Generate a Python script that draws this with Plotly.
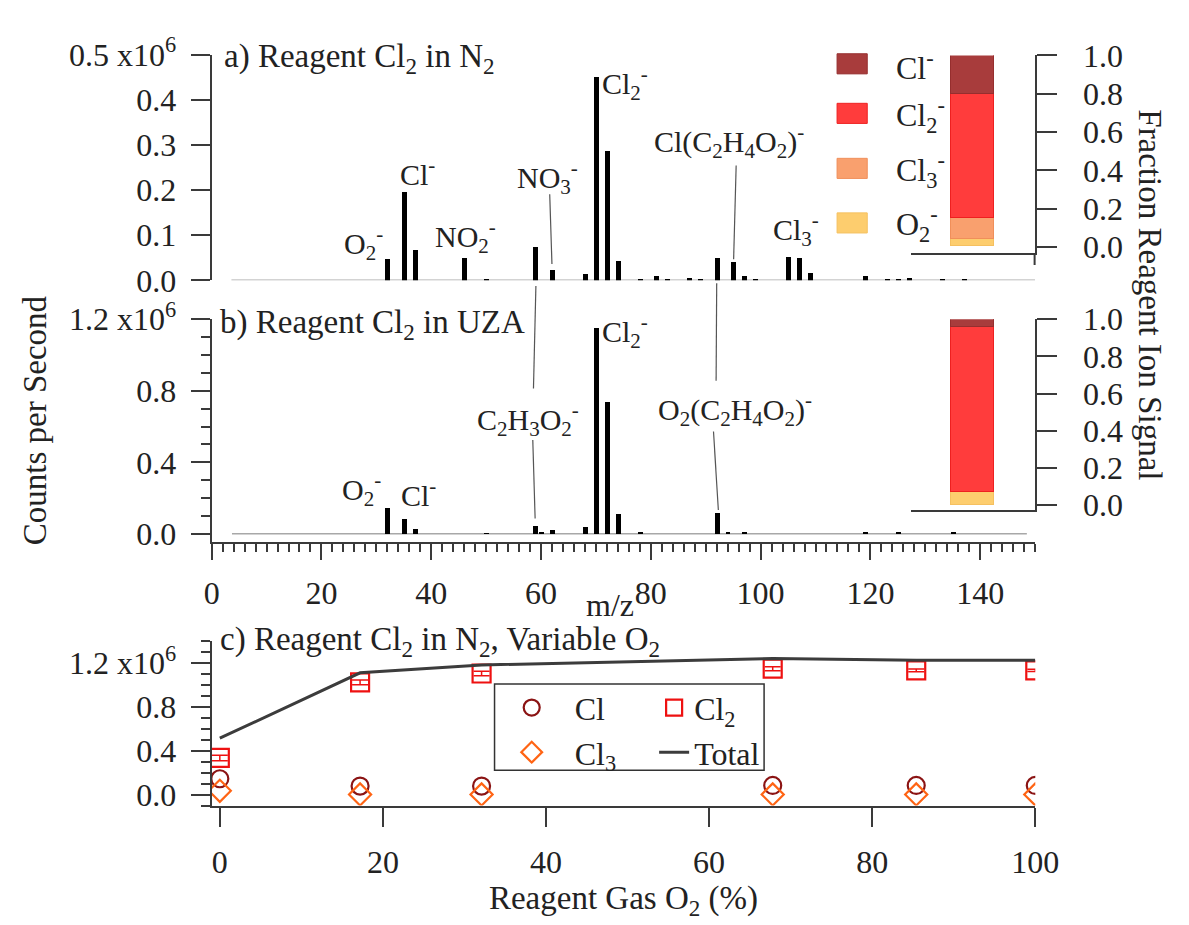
import plotly.graph_objects as go

W, H = 1189, 925
FONT = "Liberation Serif, Times New Roman, serif"
INK = "#222222"
AX = "#3a3a3a"

# ---------------- data ----------------
# panel a: Reagent Cl2 in N2 (counts per second, x1e6)
mz_n2 = [32, 35, 37, 46, 50, 59, 62, 68, 70, 72, 74, 78, 81, 83, 87, 89, 92, 95, 97, 99,
         105, 107, 109, 119, 123, 125, 127, 133, 137]
cps_n2 = [0.049, 0.196, 0.069, 0.050, 0.002, 0.075, 0.023, 0.014, 0.452, 0.288, 0.043, 0.002,
          0.010, 0.004, 0.006, 0.004, 0.051, 0.041, 0.011, 0.004, 0.053, 0.050, 0.018, 0.011,
          0.003, 0.005, 0.007, 0.002, 0.002]
# panel b: Reagent Cl2 in UZA
mz_uza = [32, 35, 37, 50, 59, 60, 62, 68, 70, 72, 74, 78, 92, 94, 97, 119, 125, 135]
cps_uza = [0.142, 0.080, 0.027, 0.003, 0.044, 0.010, 0.018, 0.036, 1.150, 0.738, 0.112, 0.005,
           0.116, 0.008, 0.004, 0.004, 0.006, 0.004]
# inset fractions of reagent ion signal
ion_names = ["O<sub>2</sub><sup>-</sup>", "Cl<sub>3</sub><sup>-</sup>",
             "Cl<sub>2</sub><sup>-</sup>", "Cl<sup>-</sup>"]
frac_n2 = [0.038, 0.109, 0.648, 0.205]
frac_uza = [0.067, 0.0, 0.889, 0.044]
ion_colors = ["#fdcd6e", "#f9a06e", "#ff3c3c", "#a83c3c"]
ion_edges = ["#f5c060", "#f08f5a", "#ee2020", "#962e2e"]
# panel c: variable O2
o2_pct = [0, 17.2, 32.1, 67.8, 85.4, 100]
cl_cps = [0.145, 0.078, 0.078, 0.084, 0.084, 0.084]
cl2_cps = [0.335, 1.025, 1.106, 1.150, 1.135, 1.135]
cl2_err = [0.025, 0.022, 0.020, 0.018, 0.012, 0.010]
cl3_cps = [0.035, 0.002, 0.002, 0.002, 0.002, 0.002]
total_cps = [0.515, 1.112, 1.184, 1.243, 1.228, 1.228]


def px(x):
    return x / W


def py(y):
    return 1 - y / H


fig = go.Figure()

# spectra
fig.add_trace(go.Bar(x=mz_n2, y=cps_n2, width=0.9, marker=dict(color="black", line=dict(width=0)),
                     xaxis="x", yaxis="y", showlegend=False))
fig.add_trace(go.Bar(x=mz_uza, y=cps_uza, width=0.9, marker=dict(color="black", line=dict(width=0)),
                     xaxis="x2", yaxis="y2", showlegend=False))

# insets (stacked)
for i in range(4):
    fig.add_trace(go.Bar(x=[0], y=[frac_n2[i]], width=0.69, xaxis="x4", yaxis="y4",
                         marker=dict(color=ion_colors[i], line=dict(color=ion_edges[i], width=1)),
                         showlegend=False, name=ion_names[i]))
    fig.add_trace(go.Bar(x=[0], y=[frac_uza[i]], width=0.69, xaxis="x5", yaxis="y5",
                         marker=dict(color=ion_colors[i], line=dict(color=ion_edges[i], width=1)),
                         showlegend=False, name=ion_names[i]))

# panel c
fig.add_trace(go.Scatter(x=o2_pct, y=cl_cps, mode="markers", name="Cl", legend="legend2",
                         marker=dict(symbol="circle-open", size=17, color="#8b1414", line=dict(width=2.2)),
                         xaxis="x3", yaxis="y3"))
fig.add_trace(go.Scatter(x=o2_pct, y=cl3_cps, mode="markers", name="Cl<sub>3</sub>", legend="legend2",
                         marker=dict(symbol="diamond-open", size=17, color="#ff6414", line=dict(width=2.2)),
                         xaxis="x3", yaxis="y3"))
fig.add_trace(go.Scatter(x=o2_pct, y=cl2_cps, mode="markers", name="Cl<sub>2</sub>", legend="legend3",
                         marker=dict(symbol="square-open", size=18, color="#ee1111", line=dict(width=2.2)),
                         error_y=dict(type="data", array=cl2_err, color="#ee1111", thickness=1.5, width=8),
                         xaxis="x3", yaxis="y3"))
fig.add_trace(go.Scatter(x=o2_pct, y=total_cps, mode="lines", name="Total", legend="legend3",
                         line=dict(color="#3c3c3c", width=3), xaxis="x3", yaxis="y3"))

tickfont = dict(family=FONT, size=32, color=INK)
common_line = dict(showline=True, linecolor=AX, linewidth=2, tickcolor=AX, tickwidth=2,
                   showgrid=False, zeroline=False, tickfont=tickfont)

xdom = [px(209.3), px(1055.5)]
layout = dict(
    width=W, height=H, margin=dict(l=0, r=0, t=0, b=0), autosize=False,
    paper_bgcolor="white", plot_bgcolor="rgba(0,0,0,0)",
    font=dict(family=FONT, size=32, color=INK),
    barmode="stack", bargap=0,
    xaxis=dict(domain=xdom, range=[0, 150], anchor="y", showline=False, showticklabels=False,
               ticks="", showgrid=False, zeroline=False),
    yaxis=dict(domain=[py(270), py(34)], range=[0, 0.5], anchor="x", ticks="outside", ticklen=19,
               tick0=0, dtick=0.1, tickformat=".1f", labelalias={"0.5": "0.5 x10<sup>6</sup>"},
               ticklabelstandoff=8, **common_line),
    xaxis2=dict(domain=xdom, range=[0, 150], anchor="y2", ticks="outside", ticklen=16, tick0=0, dtick=20,
                minor=dict(dtick=2, tick0=0, ticklen=8, ticks="outside", tickcolor=AX, tickwidth=1.5),
                ticklabelstandoff=6, **common_line),
    yaxis2=dict(domain=[py(543), py(310.7)], range=[-0.043, 1.2], anchor="x2", ticks="outside", ticklen=19,
                tick0=0, dtick=0.4, tickformat=".1f", labelalias={"1.2": "1.2 x10<sup>6</sup>"},
                minor=dict(dtick=0.1, tick0=0, ticklen=9, ticks="outside", tickcolor=AX, tickwidth=1.5),
                ticklabelstandoff=8, **common_line),
    xaxis3=dict(domain=[px(209.3), px(1055.7)], range=[-1, 100], anchor="y3", ticks="outside", ticklen=19,
                tick0=0, dtick=20, ticklabelstandoff=8,
                title=dict(text="Reagent Gas O<sub>2</sub> (%)", font=dict(family=FONT, size=33, color=INK),
                           standoff=0),
                **common_line),
    yaxis3=dict(domain=[py(819), py(647.3)], range=[-0.1, 1.4], anchor="x3", ticks="outside", ticklen=19,
                tick0=0, dtick=0.4, tickformat=".1f", labelalias={"1.2": "1.2 x10<sup>6</sup>"},
                minor=dict(dtick=0.1, tick0=0, ticklen=9, ticks="outside", tickcolor=AX, tickwidth=1.5),
                ticklabelstandoff=8, **common_line),
    xaxis4=dict(domain=[px(928), px(1055)], range=[-1, 1], anchor="y4", ticks="", showticklabels=False,
                **common_line),
    yaxis4=dict(domain=[py(241.7), py(35)], range=[-0.033, 1.0], anchor="x4", side="right", ticks="outside",
                ticklen=20, tick0=0, dtick=0.2, tickformat=".1f", ticklabelstandoff=20, **common_line),
    xaxis5=dict(domain=[px(928), px(1055)], range=[-1, 1], anchor="y5", ticks="", showticklabels=False,
                **common_line),
    yaxis5=dict(domain=[py(510), py(310.7)], range=[-0.026, 1.0], anchor="x5", side="right", ticks="outside",
                ticklen=20, tick0=0, dtick=0.2, tickformat=".1f", ticklabelstandoff=20, **common_line),
    legend2=dict(x=px(494), y=py(688), xanchor="left", yanchor="top", bgcolor="rgba(0,0,0,0)",
                 borderwidth=0, itemwidth=76, font=dict(family=FONT, size=32, color=INK),
                 tracegroupgap=0),
    legend3=dict(x=px(664), y=py(688), xanchor="left", yanchor="top", bgcolor="rgba(0,0,0,0)",
                 borderwidth=0, font=dict(family=FONT, size=32, color=INK), tracegroupgap=0),
    showlegend=True,
)
fig.update_layout(**layout)

# baselines of the spectra
fig.add_shape(type="line", xref="x", yref="y", x0=3.6, x1=150, y0=0, y1=0,
              line=dict(color="#a8a8a8", width=1.5), layer="below")
fig.add_shape(type="line", xref="x2", yref="y2", x0=3.7, x1=148.5, y0=0, y1=0,
              line=dict(color="#a8a8a8", width=1.5), layer="below")

# inset axis extension
fig.add_shape(type="line", xref="paper", yref="paper", x0=px(1055), x1=px(1055), y0=py(241.7), y1=py(254),
              line=dict(color=AX, width=2))

# legend box panel c
fig.add_shape(type="rect", xref="paper", yref="paper", x0=px(500), x1=px(777), y0=py(782), y1=py(692),
              line=dict(color="#333333", width=1.5))

# leader lines
leaders = [((556.7, 180), (559, 253)), ((748.3, 150), (745.7, 248)),
           ((542.5, 276), (540, 383)), ((539.3, 437), (541.7, 519)),
           ((728.3, 273), (727.7, 375)), ((725, 428), (730, 510))]
for (x0, y0), (x1, y1) in leaders:
    fig.add_shape(type="line", xref="paper", yref="paper", x0=px(x0), y0=py(y0), x1=px(x1), y1=py(y1),
                  line=dict(color="#555555", width=1.2))

# inset legend swatches
sw_rows = [(43.7, 3), (95.5, 2), (153, 1), (210, 0)]
for yc, idx in sw_rows:
    fig.add_shape(type="rect", xref="paper", yref="paper", x0=px(852), x1=px(883), y0=py(yc + 10.5),
                  y1=py(yc - 10.5), fillcolor=ion_colors[idx], line=dict(color=ion_edges[idx], width=1))
    fig.add_annotation(x=px(910), y=py(yc + 2), xref="paper", yref="paper", text=ion_names[idx],
                       showarrow=False, xanchor="left", yanchor="middle",
                       font=dict(family=FONT, size=32, color=INK))


def label(text, x, y, size=30, xanchor="center", angle=0):
    fig.add_annotation(x=px(x), y=py(y), xref="paper", yref="paper", text=text, showarrow=False,
                       xanchor=xanchor, yanchor="middle", textangle=angle,
                       font=dict(family=FONT, size=size, color=INK))


# titles
label("a) Reagent Cl<sub>2</sub> in N<sub>2</sub>", 220, 38, size=33, xanchor="left")
label("b) Reagent Cl<sub>2</sub> in UZA", 216, 316, size=33, xanchor="left")
label("c) Reagent Cl<sub>2</sub> in N<sub>2</sub>, Variable O<sub>2</sub>", 216, 647, size=33, xanchor="left")
label("m/z", 619, 609, size=32)
label("Counts per Second", 28, 416, size=33, angle=-90)
label("Fraction Reagent Ion Signal", 1174, 285, size=33, angle=90)

# peak labels panel a
label("O<sub>2</sub><sup>-</sup>", 365, 232)
label("Cl<sup>-</sup>", 421, 157)
label("NO<sub>2</sub><sup>-</sup>", 470, 224)
label("NO<sub>3</sub><sup>-</sup>", 554, 163)
label("Cl<sub>2</sub><sup>-</sup>", 634, 64)
label("Cl(C<sub>2</sub>H<sub>4</sub>O<sub>2</sub>)<sup>-</sup>", 741, 125)
label("Cl<sub>3</sub><sup>-</sup>", 810, 217)
# peak labels panel b
label("O<sub>2</sub><sup>-</sup>", 363, 489)
label("Cl<sup>-</sup>", 422, 492)
label("C<sub>2</sub>H<sub>3</sub>O<sub>2</sub><sup>-</sup>", 534, 415)
label("Cl<sub>2</sub><sup>-</sup>", 634, 324)
label("O<sub>2</sub>(C<sub>2</sub>H<sub>4</sub>O<sub>2</sub>)<sup>-</sup>", 747, 405)

fig.write_html("out.html", config={"displayModeBar": False},
               post_script="document.body.style.margin='0';document.body.style.overflow='hidden';")
